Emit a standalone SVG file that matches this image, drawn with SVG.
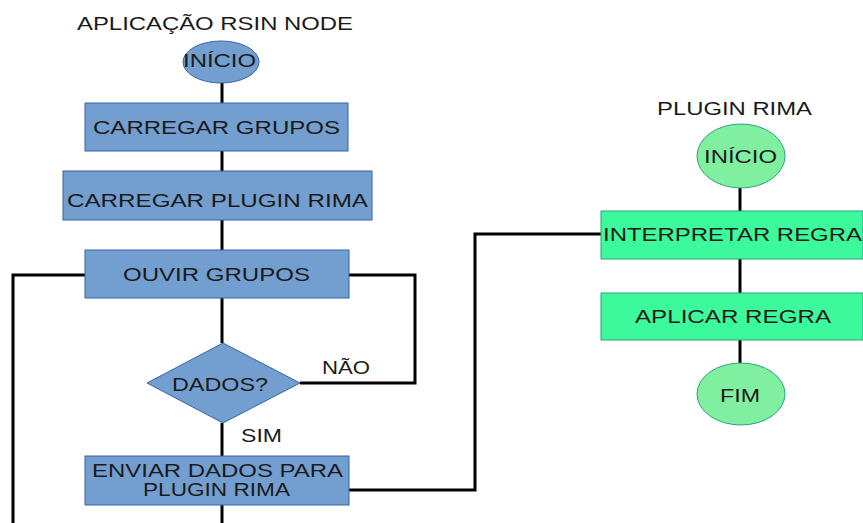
<svg xmlns="http://www.w3.org/2000/svg" width="863" height="523" viewBox="0 0 863 523">
<style>
  .bg{fill:#ffffff}
  .blue{fill:#729fcf;stroke:#3465a4;stroke-width:1}
  .gbox{fill:#3cfa9c;stroke:#2aa37a;stroke-width:1}
  .gell{fill:#80f0a0;stroke:#2aa37a;stroke-width:1}
  .t{font-family:"Liberation Sans",Arial,sans-serif;font-size:18px;fill:#1a1a1a}
  .c{fill:none;stroke:#000;stroke-width:3}
</style>
<rect class="bg" x="0" y="0" width="863" height="523"/>
<g id="connectors">
  <path class="c" d="M222,83 V103"/>
  <path class="c" d="M222,151 V171"/>
  <path class="c" d="M222,220 V250"/>
  <path class="c" d="M222,298 V343"/>
  <path class="c" d="M222,423 V456"/>
  <path class="c" d="M222,505 V523"/>
  <path class="c" d="M85,275 H13 V523"/>
  <path class="c" d="M300,383 H415 V275 H349"/>
  <path class="c" d="M349,490 H475 V234 H601"/>
  <path class="c" d="M740,188 V211"/>
  <path class="c" d="M740,259 V293"/>
  <path class="c" d="M740,340 V363"/>
</g>
<g id="title-left"><text class="t" x="77" y="30" textLength="276" lengthAdjust="spacingAndGlyphs">APLICAÇÃO RSIN NODE</text></g>
<g id="inicio-left">
  <ellipse class="blue" cx="221" cy="62" rx="38" ry="21"/>
  <text class="t" x="183" y="67" textLength="73" lengthAdjust="spacingAndGlyphs">INÍCIO</text>
</g>
<g id="carregar-grupos">
  <rect class="blue" x="85" y="103" width="263" height="48"/>
  <text class="t" x="93" y="134" textLength="247" lengthAdjust="spacingAndGlyphs">CARREGAR GRUPOS</text>
</g>
<g id="carregar-plugin">
  <rect class="blue" x="63" y="171" width="309" height="49"/>
  <text class="t" x="67" y="207" textLength="301" lengthAdjust="spacingAndGlyphs">CARREGAR PLUGIN RIMA</text>
</g>
<g id="ouvir-grupos">
  <rect class="blue" x="85" y="250" width="264" height="48"/>
  <text class="t" x="123" y="281" textLength="187" lengthAdjust="spacingAndGlyphs">OUVIR GRUPOS</text>
</g>
<g id="dados">
  <polygon class="blue" points="223,343 300,383 223,423 147,383"/>
  <text class="t" x="172" y="391" textLength="96" lengthAdjust="spacingAndGlyphs">DADOS?</text>
</g>
<g id="labels">
  <text class="t" x="322" y="374" textLength="48" lengthAdjust="spacingAndGlyphs">NÃO</text>
  <text class="t" x="241" y="442" textLength="41" lengthAdjust="spacingAndGlyphs">SIM</text>
</g>
<g id="enviar">
  <rect class="blue" x="85" y="456" width="264" height="49"/>
  <text class="t" x="92" y="477" textLength="251" lengthAdjust="spacingAndGlyphs">ENVIAR DADOS PARA</text>
  <text class="t" x="143" y="496" textLength="147" lengthAdjust="spacingAndGlyphs">PLUGIN RIMA</text>
</g>
<g id="title-right"><text class="t" x="657" y="115" textLength="155" lengthAdjust="spacingAndGlyphs">PLUGIN RIMA</text></g>
<g id="inicio-right">
  <ellipse class="gell" cx="741" cy="156" rx="44" ry="32"/>
  <text class="t" x="704" y="163" textLength="73" lengthAdjust="spacingAndGlyphs">INÍCIO</text>
</g>
<g id="interpretar">
  <rect class="gbox" x="601" y="211" width="262" height="48"/>
  <text class="t" x="603" y="241" textLength="259" lengthAdjust="spacingAndGlyphs">INTERPRETAR REGRA</text>
</g>
<g id="aplicar">
  <rect class="gbox" x="601" y="293" width="262" height="47"/>
  <text class="t" x="635" y="323" textLength="196" lengthAdjust="spacingAndGlyphs">APLICAR REGRA</text>
</g>
<g id="fim">
  <ellipse class="gell" cx="741" cy="394" rx="44" ry="31"/>
  <text class="t" x="720" y="402" textLength="40" lengthAdjust="spacingAndGlyphs">FIM</text>
</g>
</svg>
